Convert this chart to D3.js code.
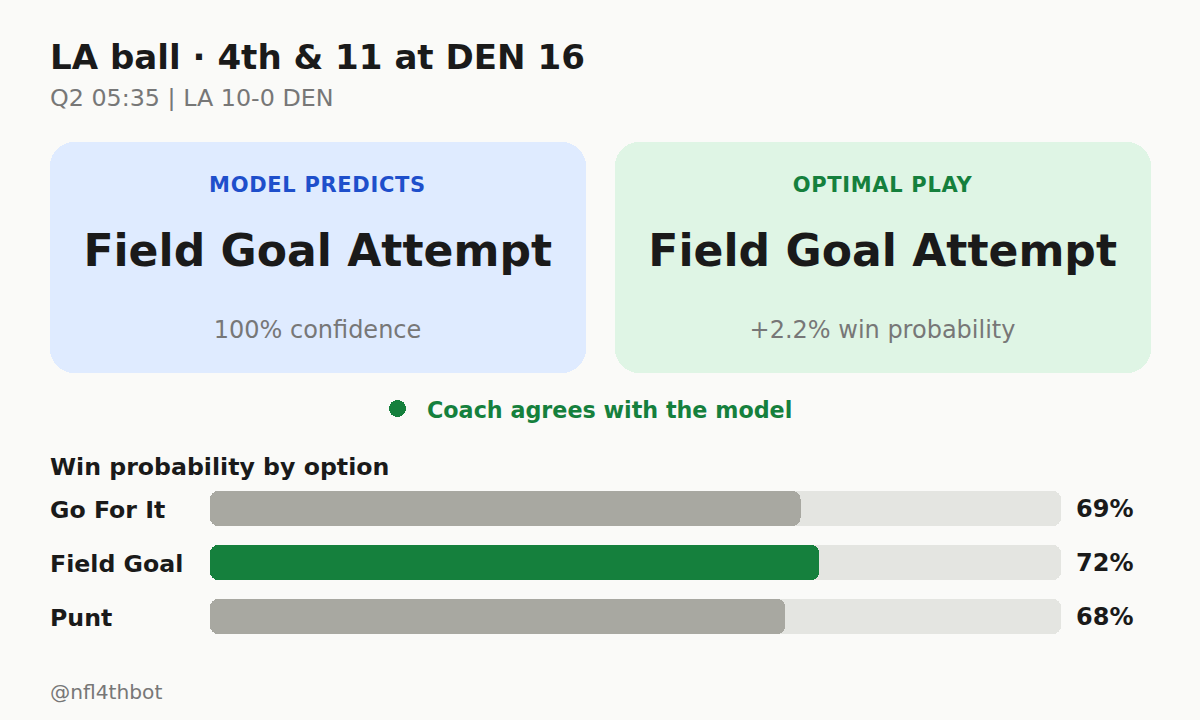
<!DOCTYPE html>
<html>
<head>
<meta charset="utf-8">
<script src="https://cdn.jsdelivr.net/npm/d3@7"></script>
<style>
html, body { margin: 0; padding: 0; background: #fafaf8; }
text { font-family: "DejaVu Sans", sans-serif; }
</style>
</head>
<body>
<div id="chart-area"></div>
<script>
const options = ["Go For It", "Field Goal", "Punt"];
const winProb = [69.4, 71.6, 67.6];
const bestOption = "Field Goal";

const cardLabels = ["MODEL PREDICTS", "OPTIMAL PLAY"];
const cardPlays = ["Field Goal Attempt", "Field Goal Attempt"];
const cardNotes = ["100% confidence", "+2.2% win probability"];
const cardFills = ["#dfebff", "#dff5e5"];
const cardInks = ["#1e4fcb", "#15803d"];

let svg = d3.select("#chart-area")
    .append("svg")
    .attr("width", 1200)
    .attr("height", 720)
    .style("display", "block");

svg.append("rect").attr("width", 1200).attr("height", 720).attr("fill", "#fafaf8");

// header
svg.append("text").attr("x", 50).attr("y", 69)
    .attr("font-size", 34.1).attr("font-weight", "bold").attr("fill", "#1a1a1a")
    .text("LA ball · 4th & 11 at DEN 16");
svg.append("text").attr("x", 50).attr("y", 105.5)
    .attr("font-size", 23.8).attr("fill", "#777777")
    .text("Q2 05:35 | LA 10-0 DEN");

// two cards
let cardX = d3.scaleBand().domain(d3.range(2)).range([50, 1151]).paddingInner(0.0513);

let cards = svg.selectAll("g.card")
    .data(d3.range(2))
    .enter()
    .append("g")
    .attr("class", "card")
    .attr("transform", i => "translate(" + cardX(i) + ",142)");

cards.append("rect")
    .attr("width", cardX.bandwidth())
    .attr("height", 231)
    .attr("rx", 24)
    .attr("fill", i => cardFills[i])
    .attr("shape-rendering", "crispEdges");

cards.append("text")
    .attr("x", cardX.bandwidth() / 2 - 0.5).attr("y", 50)
    .attr("text-anchor", "middle")
    .attr("font-size", 21).attr("font-weight", "bold")
    .attr("letter-spacing", 0.68)
    .attr("fill", i => cardInks[i])
    .text(i => cardLabels[i]);

cards.append("text")
    .attr("x", cardX.bandwidth() / 2 - 0.3).attr("y", 124)
    .attr("text-anchor", "middle")
    .attr("font-size", 44.1).attr("font-weight", "bold").attr("fill", "#1a1a1a")
    .text(i => cardPlays[i]);

cards.append("text")
    .attr("x", cardX.bandwidth() / 2 - 0.5).attr("y", 196)
    .attr("text-anchor", "middle")
    .attr("font-size", 24).attr("fill", "#777777")
    .text(i => cardNotes[i]);

// coach line
svg.append("circle").attr("cx", 397.5).attr("cy", 408.5).attr("r", 8.5)
    .attr("fill", "#15803d")
    .attr("shape-rendering", "crispEdges");
svg.append("text").attr("x", 427).attr("y", 418)
    .attr("font-size", 22.25).attr("font-weight", "bold").attr("fill", "#15803d")
    .text("Coach agrees with the model");

// bars
svg.append("text").attr("x", 50).attr("y", 475)
    .attr("font-size", 23.65).attr("font-weight", "bold").attr("fill", "#1a1a1a")
    .text("Win probability by option");

let x = d3.scaleLinear().domain([0, 100]).range([210, 1061]);
let y = d3.scaleBand().domain(options).range([491, 634]).paddingInner(19 / 54);

let rows = svg.selectAll("g.row")
    .data(options)
    .enter()
    .append("g")
    .attr("class", "row")
    .attr("transform", d => "translate(0," + y(d) + ")");

rows.append("rect")
    .attr("x", x(0))
    .attr("width", x(100) - x(0))
    .attr("height", y.bandwidth())
    .attr("rx", 8)
    .attr("fill", "#e4e5e1")
    .attr("shape-rendering", "crispEdges");

rows.append("rect")
    .attr("x", x(0))
    .attr("width", (d, i) => x(winProb[i]) - x(0))
    .attr("height", y.bandwidth())
    .attr("rx", 8)
    .attr("fill", d => d == bestOption ? "#15803d" : "#a8a8a1")
    .attr("shape-rendering", "crispEdges");

rows.append("text")
    .attr("x", 50).attr("y", 27)
    .attr("font-size", 23.65).attr("font-weight", "bold").attr("fill", "#1a1a1a")
    .text(d => d);

rows.append("text")
    .attr("x", 1076).attr("y", 26)
    .attr("font-size", 24).attr("font-weight", "bold").attr("fill", "#1a1a1a")
    .text((d, i) => Math.round(winProb[i]) + "%");

svg.append("text").attr("x", 50).attr("y", 699)
    .attr("font-size", 20.2).attr("fill", "#777777")
    .text("@nfl4thbot");
</script>
</body>
</html>
